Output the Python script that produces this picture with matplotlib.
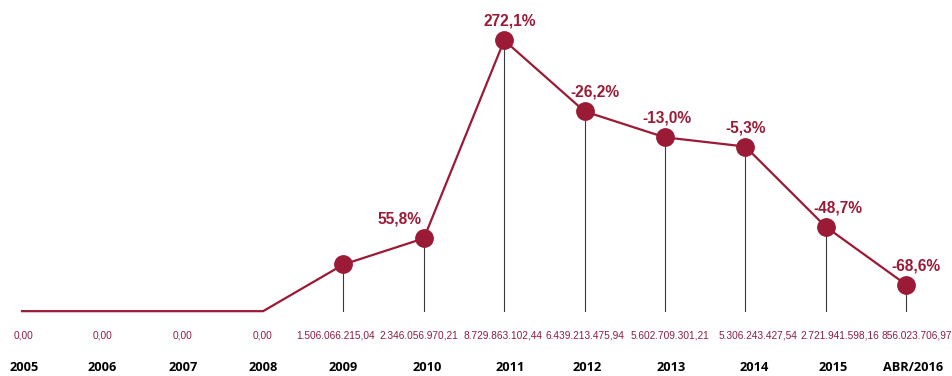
import matplotlib
matplotlib.use('Agg')
import matplotlib.pyplot as plt

# yearly totals (R$), percent change vs previous year
years = ['2005', '2006', '2007', '2008', '2009', '2010', '2011', '2012',
         '2013', '2014', '2015', 'ABR/2016']
values = [0.0, 0.0, 0.0, 0.0, 1506066215.04, 2346056970.21, 8729863102.44,
          6439213475.94, 5602709301.21, 5306243427.54, 2721941598.16,
          856023706.97]
value_labels = ['0,00', '0,00', '0,00', '0,00', '1.506.066.215,04',
                '2.346.056.970,21', '8.729.863.102,44', '6.439.213.475,94',
                '5.602.709.301,21', '5.306.243.427,54', '2.721.941.598,16',
                '856.023.706,97']
pct_labels = [None, None, None, None, None, '55,8%', '272,1%', '-26,2%',
              '-13,0%', '-5,3%', '-48,7%', '-68,6%']

# label nudges in pixels
pct_dx = [0, 0, 0, 0, 0, -24, 6, 10, 2, 0, 12, 10]
val_dx = [1, 0, 0, -1, -8, -5, -1, 0, 5, 13, 14, 11]
year_dx = [2, 0, 0, 0, 0, 3, 6, 3, 6, 9, 7, 7]

red = '#9b1a35'
x = list(range(len(years)))
y = [v / 1e9 for v in values]

fig = plt.figure(figsize=(9.52, 3.76), dpi=100)
ax = fig.add_axes([0, 0, 1, 1])
ax.set_xlim(-0.274, 11.572)
ax.set_ylim(-2.09, 10.03)
ax.axis('off')

ax.plot(x, y, color=red, lw=1.6, zorder=2)
first = 4
for i in range(first, len(x)):
    ax.plot([x[i], x[i]], [0, y[i]], color='#3a3a3a', lw=0.8, zorder=1)
ax.plot(x[first:], y[first:], 'o', color=red, ms=12.5, mec=red, zorder=3)

for i in range(len(x)):
    ax.annotate(value_labels[i], (x[i], -0.77), xytext=(val_dx[i], 0),
                textcoords='offset pixels', ha='center', va='center',
                fontsize=7.3, color='#8a1f42', family='Liberation Sans')
    ax.annotate(years[i], (x[i], -1.83), xytext=(year_dx[i], 0),
                textcoords='offset pixels', ha='center', va='center',
                fontsize=9.2, fontweight='bold', color='black',
                family='Open Sans')
    if pct_labels[i]:
        ax.annotate(pct_labels[i], (x[i], y[i]), xytext=(pct_dx[i], 19),
                    textcoords='offset pixels', ha='center', va='center',
                    fontsize=11.2, fontweight='bold', color=red,
                    family='Liberation Sans')

fig.savefig('out.png', dpi=100)
